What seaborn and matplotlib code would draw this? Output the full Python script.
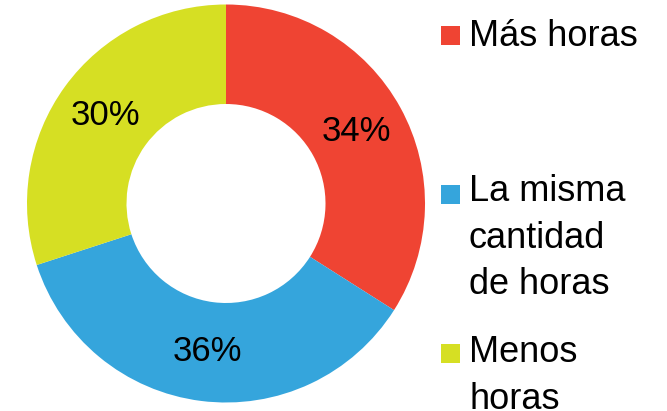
import matplotlib
matplotlib.use("Agg")
import matplotlib.pyplot as plt
from matplotlib.patches import Rectangle
import seaborn as sns

categories = ["Más horas", "La misma\ncantidad\nde horas", "Menos\nhoras"]
shares = [34, 36, 30]
colors = ["#EF4433", "#35A5DC", "#D6DF23"]

sns.set_theme(style="white")
plt.rcParams["font.family"] = ["Liberation Sans", "DejaVu Sans"]

W, H = 667, 411
fig = plt.figure(figsize=(W / 100, H / 100), dpi=100)
fig.patch.set_facecolor("white")

# donut: centre (226, 203.5) px from top-left, outer radius 199 px
cx, cy, R = 226, 203.5, 199
ax = fig.add_axes([(cx - R) / W, (H - cy - R) / H, 2 * R / W, 2 * R / H])
palette = sns.color_palette(colors)
wedges, texts, autotexts = ax.pie(
    shares,
    colors=palette,
    startangle=90,
    counterclock=False,
    radius=1.0,
    wedgeprops=dict(width=0.5, linewidth=0),
    autopct=lambda p: f"{p:.0f}%",
    pctdistance=0.75,
    textprops=dict(fontsize=25, color="black"),
)
ax.set_xlim(-1, 1)
ax.set_ylim(-1, 1)
ax.set_aspect("equal")
ax.axis("off")

# legend entries placed down the right side
sq = 19
line_step = 44.5
square_tops = [26, 185, 344]
for label, col, top in zip(categories, colors, square_tops):
    fig.patches.append(Rectangle((441 / W, (H - top - sq) / H), sq / W, sq / H,
                                 transform=fig.transFigure, facecolor=col,
                                 edgecolor="none"))
    n_lines = label.count("\n") + 1
    last_baseline = top + sq + 1 + (n_lines - 1) * line_step
    fig.text(469 / W, (H - last_baseline) / H, label, fontsize=26, color="black",
             ha="left", va="baseline", linespacing=1.42)

fig.savefig("out.png", dpi=100, facecolor="white")
